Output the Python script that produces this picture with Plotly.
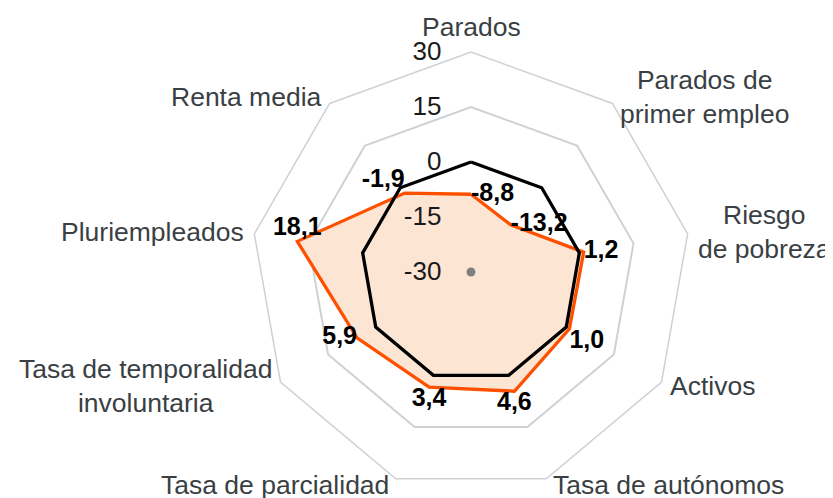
import math
import plotly.graph_objects as go

categories = ["Parados", "Parados de primer empleo", "Riesgo de pobreza", "Activos",
              "Tasa de autónomos", "Tasa de parcialidad",
              "Tasa de temporalidad involuntaria", "Pluriempleados", "Renta media"]
category_labels = ["Parados", "Parados de<br>primer empleo", "Riesgo<br>de pobreza", "Activos",
                   "Tasa de autónomos", "Tasa de parcialidad",
                   "Tasa de temporalidad<br>involuntaria", "Pluriempleados", "Renta media"]
values = [-8.8, -13.2, 1.2, 1.0, 4.6, 3.4, 5.9, 18.1, -1.9]
reference = [0, 0, 0, 0, 0, 0, 0, 0, 0]
radial_ticks = [-30, -15, 0, 15, 30]
center_value = [-30]

label_pos = ["middle right", "middle right", "middle right", "bottom right", "bottom center",
             "bottom center", "middle left", "top center", "top left"]

theta_closed = categories + categories[:1]

fig = go.Figure()
fig.add_trace(go.Scatterpolar(
    r=values + values[:1], theta=theta_closed, mode="lines",
    line=dict(color="#FF5000", width=3.3), fill="toself", fillcolor="#FDE5D3",
    hoverinfo="skip", showlegend=False, subplot="polar"))
fig.add_trace(go.Scatterpolar(
    r=reference + reference[:1], theta=theta_closed, mode="lines",
    line=dict(color="black", width=3.3), hoverinfo="skip", showlegend=False,
    subplot="polar"))
# markers and text go on a transparent circular overlay with the same scales
fig.add_trace(go.Scatterpolar(
    r=center_value, theta=categories[:1], mode="markers",
    marker=dict(color="#808080", size=9), hoverinfo="skip", showlegend=False,
    subplot="polar2"))
for v, c, pos in zip(values, categories, label_pos):
    fig.add_trace(go.Scatterpolar(
        r=[v], theta=[c], mode="text",
        text=["<b>" + f"{v:.1f}".replace(".", ",") + "</b>"], textposition=pos,
        textfont=dict(family="Liberation Sans", size=25, color="black"),
        hoverinfo="skip", showlegend=False, subplot="polar2"))

W, H = 833, 498
# page body has an 8px margin, so the figure is offset by 8px in the browser
cx, cy, R = 463, 264, 220
domain = dict(x=[(cx - R) / W, (cx + R) / W], y=[1 - (cy + R) / H, 1 - (cy - R) / H])
fig.update_layout(
    width=W, height=H,
    margin=dict(l=0, r=0, t=0, b=0),
    paper_bgcolor="white",
    font=dict(family="Liberation Sans", color="#3a3f44"),
    polar=dict(
        domain=domain,
        bgcolor="white",
        gridshape="linear",
        radialaxis=dict(range=[-30, 30], tickvals=radial_ticks,
                        ticktext=[str(t) for t in radial_ticks],
                        angle=90, tickangle=90,
                        side="counterclockwise", showline=False,
                        gridcolor="#cdd1d5", gridwidth=1.5,
                        ticks="outside", ticklen=20, tickcolor="rgba(0,0,0,0)",
                        tickfont=dict(size=26, color="#1a1a1a")),
        angularaxis=dict(rotation=90, direction="clockwise", showgrid=False,
                         categoryorder="array", categoryarray=categories,
                         showline=True, linecolor="#cdd1d5", linewidth=1.5,
                         ticks="", showticklabels=False),
    ),
    polar2=dict(
        domain=domain,
        bgcolor="rgba(0,0,0,0)",
        gridshape="circular",
        radialaxis=dict(range=[-30, 30], visible=False),
        angularaxis=dict(rotation=90, direction="clockwise", visible=False,
                         categoryorder="array", categoryarray=categories),
    ),
)

# category labels placed just outside each vertex of the outer ring
pad = 8
for i, lab in enumerate(category_labels):
    a = math.radians(90 - 360 / len(categories) * i)
    c, s = math.cos(a), math.sin(a)
    vx = cx + R * c
    vy = cy - R * s
    xanchor = "left" if c > 0.2 else ("right" if c < -0.2 else "center")
    if s > 0.8:
        px, py, yanchor = vx, vy - pad, "bottom"
    elif s < -0.8:
        px, py, yanchor = vx + (5 if c > 0 else -5), vy + 6, "middle"
    else:
        px, py, yanchor = vx + pad * c, vy - pad * s, "middle"
    fig.add_annotation(x=px / W, y=1 - py / H, xref="paper", yref="paper",
                       text=lab, showarrow=False, xanchor=xanchor, yanchor=yanchor,
                       align="center", font=dict(size=26.5, color="#3a3f44"))

fig.write_html("out.html")
